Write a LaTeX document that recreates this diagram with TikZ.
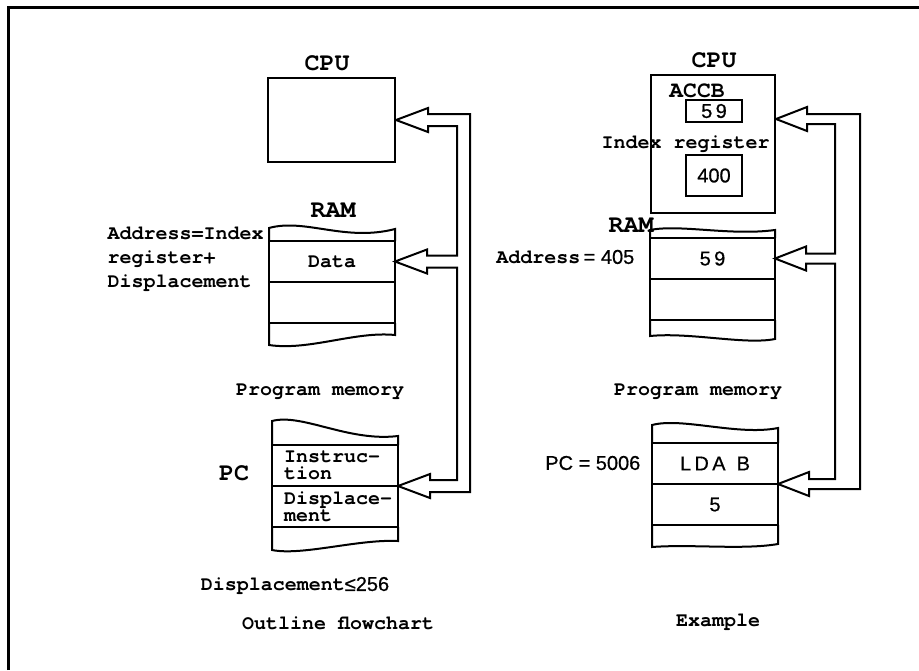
\documentclass[tikz,border=0pt]{standalone}
\usepackage{fontspec}
\setmonofont{texgyrecursor-bold.otf}
\setsansfont[FakeBold=0.6]{Liberation Sans}
\usetikzlibrary{positioning,calc}

\begin{document}
\begin{tikzpicture}[x=0.5pt,y=-0.5pt,line width=1pt,
  font=\ttfamily\fontsize{10}{12}\selectfont,
  box/.style={draw,inner sep=0pt},
  cell/.style={draw,inner sep=0pt,outer sep=0pt,minimum width=63pt,minimum height=20.5pt},
  twoline/.style={text width=51pt,align=left,font=\ttfamily\fontsize{10}{8.6}\selectfont},
  head/.style={font=\ttfamily\fontsize{12.5}{14}\selectfont},
  pipe/.style={line width=1pt,line join=miter}]
\useasboundingbox (0,0) rectangle (919,670);
\draw[line width=1.5pt] (8,670) -- (8,7) -- (919,7);

% --- outline flowchart ---
\node[box,minimum width=63.5pt,minimum height=42pt] (cpuL) at (331.5,120) {};
\node[head] (cpuLlab) at (327,63) {CPU};
\node[head] (ramLlab) at (333,210) {RAM};
\node[cell] (ramL1) at (332,261.5) {Data};
\node[cell,below=0pt of ramL1] (ramL2) {};
\draw (ramL1.north west) -- ++(0,-13) .. controls +(36,-10) and +(-50,13) .. ++(126,1) -- (ramL1.north east);
\draw (ramL2.south west) -- ++(0,22) .. controls +(40,6) and +(-40,-4) .. ++(126,-10) -- (ramL2.south east);
\node[anchor=west,align=left,font=\ttfamily\fontsize{10}{12}\selectfont] (addrL) at (100,259) {Address=Index\\register+\\Displacement};

\node (pmLlab) at (320,392) {Program memory};
\node[cell,twoline] (pmL1) at (335,465.5) {Instruc-\\tion};
\node[cell,twoline,below=0pt of pmL1] (pmL2) {Displace-\\ment};
\draw (pmL1.north west) -- ++(0,-24) .. controls +(30,-8) and +(-50,6) .. ++(126,15) -- (pmL1.north east);
\draw (pmL2.south west) -- ++(0,23) .. controls +(30,6) and +(-40,-2) .. ++(126,-9) -- (pmL2.south east);
\node[head] (pcL) at (234,473) {PC};

\node (limit) at (295,586) {Displacement{\sffamily ≤256}};
\node (capL) at (338,623) {Outline flowchart};

% hollow data path, left
\draw[pipe] (cpuL.east) -- ++(32,-12) -- ++(0,6) -| ($(pmL1.south east)+(72,6)$) -- ++(-40,0) -- ++(0,6) -- (pmL1.south east);
\draw[pipe] (cpuL.east) -- ++(32,12) -- ++(0,-6) -| ($(ramL1.east)+(62,-6)$) -- ++(-30,0) -- ++(0,-6) -- (ramL1.east)
  -- ++(32,12) -- ++(0,-6) -| ($(pmL1.south east)+(59,-6)$) -- ++(-27,0) -- ++(0,-6) -- (pmL1.south east);

% --- example ---
\node[box,minimum width=62pt,minimum height=69pt] (cpuR) at (713,144) {};
\node[head] (cpuRlab) at (714,60) {CPU};
\node[font=\ttfamily\fontsize{11.5}{13}\selectfont] (accbLab) at (697,91) {ACCB};
\node[box,minimum width=28pt,minimum height=11pt,font=\sffamily] (accb) at (714,111) {5\,9};
\node (ixLab) at (685.5,144) {Index register};
\node[box,minimum width=28pt,minimum height=20.5pt,font=\sffamily] (ix) at (714,175.5) {400};
\coordinate (cpuRin) at ($(cpuR.north east)+(0,45)$);

\node[head] (ramRlab) at (631,225) {RAM};
\node[cell,minimum width=62.5pt,font=\sffamily] (ramR1) at (712.5,258.5) {5\,9};
\node[cell,minimum width=62.5pt,below=0pt of ramR1] (ramR2) {};
\draw (ramR1.north west) -- ++(0,-8) .. controls +(30,-6) and +(-45,6) .. ++(125,0) -- (ramR1.north east);
\draw (ramR2.south west) -- ++(0,16) .. controls +(40,-4) and +(-30,6) .. ++(125,3) -- (ramR2.south east);
\node[anchor=east] (addrR) at (642,257) {Address\,{\sffamily = 405}};

\node (pmRlab) at (698,392) {Program memory};
\node[cell,font=\sffamily] (pmR1) at (715,463.5) {L\,D\,A\;\;B};
\node[cell,font=\sffamily,below=0pt of pmR1] (pmR2) {5};
\draw (pmR1.north west) -- ++(0,-18) .. controls +(30,-8) and +(-40,8) .. ++(126,3) -- (pmR1.north east);
\draw (pmR2.south west) -- ++(0,22) .. controls +(40,-3) and +(-35,6) .. ++(126,-3) -- (pmR2.south east);
\node[anchor=east,font=\sffamily] (pcR) at (648,463) {PC = 5006};

\node (capR) at (718,622) {Example};

% hollow data path, right
\draw[pipe] (cpuRin) -- ++(31,-12) -- ++(0,7) -| ($(pmR1.south east)+(82,5)$) -- ++(-51,0) -- ++(0,7) -- (pmR1.south east);
\draw[pipe] (cpuRin) -- ++(31,12) -- ++(0,-7) -| ($(ramR1.east)+(60,-5)$) -- ++(-29,0) -- ++(0,-7) -- (ramR1.east)
  -- ++(31,12) -- ++(0,-7) -| ($(pmR1.south east)+(57,-5)$) -- ++(-26,0) -- ++(0,-7) -- (pmR1.south east);
\end{tikzpicture}
\end{document}
